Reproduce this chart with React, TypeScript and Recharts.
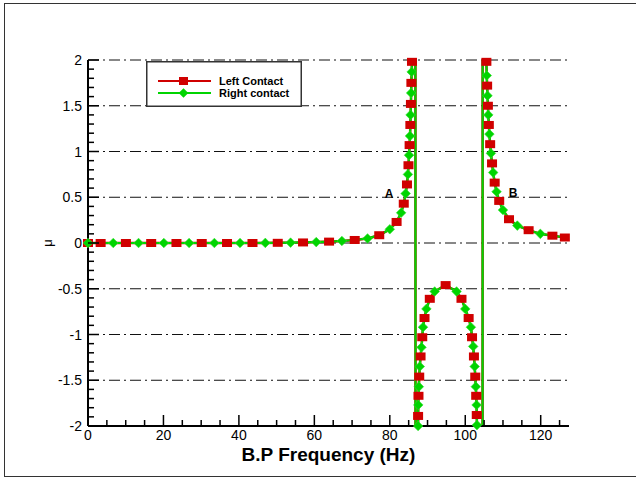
import React from 'react';
import { LineChart, Line, XAxis, YAxis, CartesianGrid, ReferenceDot, Legend } from 'recharts';

// B.P frequency (Hz) of the sampled points along both curves
const freq = [
  0, 3.35, 6.7, 10.05, 13.4, 16.75, 20.1, 23.45, 26.8, 30.15, 33.5, 36.85, 40.3, 43.6, 47.0, 50.3,
  53.7, 57.0, 60.5, 63.9, 67.3, 70.7, 74.1, 77.2, 80.0, 81.8, 83.0, 83.7, 84.2, 84.55, 84.8, 84.95,
  85.1, 85.25, 85.35, 85.45, 85.5, 85.6, 85.65, 85.72, 85.8, 85.88, 86.6, 87.0, 87.5, 87.5, 87.55,
  87.6, 87.7, 87.8, 87.95, 88.15, 88.4, 88.6, 88.8, 89.2, 89.7, 90.6, 91.9, 94.8, 97.7, 99.0, 100.0,
  100.9, 101.5, 101.8, 102.1, 102.3, 102.5, 102.65, 102.8, 102.9, 103.0, 103.05, 103.1, 104.4, 104.8,
  105.6, 105.7, 105.8, 105.9, 106.0, 106.1, 106.25, 106.4, 106.6, 106.8, 107.1, 107.4, 107.8, 108.3,
  109.0, 110.0, 111.6, 113.8, 116.8, 119.9, 123.1, 126.4,
];

// mu, left contact (values of +/-40 stand for the branches running off the chart)
const leftContact = [
  0, 0, 0, 0, 0, 0, 0, 0, 0, 0, 0, 0, 0, 0, 0.001, 0.002,
  0.004, 0.006, 0.01, 0.015, 0.022, 0.033, 0.05, 0.085, 0.15, 0.23, 0.33, 0.43, 0.54, 0.64, 0.75, 0.85,
  0.96, 1.07, 1.17, 1.29, 1.4, 1.52, 1.64, 1.75, 1.87, 1.98, 40, -40, -2.0, -1.89, -1.77,
  -1.67, -1.57, -1.46, -1.35, -1.24, -1.14, -1.03, -0.92, -0.82, -0.72, -0.61, -0.53, -0.46, -0.53, -0.61, -0.72,
  -0.82, -0.92, -1.03, -1.13, -1.24, -1.35, -1.46, -1.57, -1.67, -1.77, -1.88, -1.99, -40, 40,
  1.98, 1.83, 1.72, 1.61, 1.5, 1.4, 1.29, 1.19, 1.08, 0.98, 0.87, 0.77, 0.66, 0.56,
  0.46, 0.36, 0.26, 0.19, 0.14, 0.1, 0.08, 0.06,
];

// mu, right contact (lies on top of the left contact curve)
const rightContact = [
  0, 0, 0, 0, 0, 0, 0, 0, 0, 0, 0, 0, 0, 0, 0.001, 0.002,
  0.004, 0.006, 0.01, 0.015, 0.022, 0.033, 0.05, 0.085, 0.15, 0.23, 0.33, 0.43, 0.54, 0.64, 0.75, 0.85,
  0.96, 1.07, 1.17, 1.29, 1.4, 1.52, 1.64, 1.75, 1.87, 1.98, 40, -40, -2.0, -1.89, -1.77,
  -1.67, -1.57, -1.46, -1.35, -1.24, -1.14, -1.03, -0.92, -0.82, -0.72, -0.61, -0.53, -0.46, -0.53, -0.61, -0.72,
  -0.82, -0.92, -1.03, -1.13, -1.24, -1.35, -1.46, -1.57, -1.67, -1.77, -1.88, -1.99, -40, 40,
  1.98, 1.83, 1.72, 1.61, 1.5, 1.4, 1.29, 1.19, 1.08, 0.98, 0.87, 0.77, 0.66, 0.56,
  0.46, 0.36, 0.26, 0.19, 0.14, 0.1, 0.08, 0.06,
];

const xMajorTicks = [0, 20, 40, 60, 80, 100, 120];
const yMajorTicks = [-2, -1.5, -1, -0.5, 0, 0.5, 1, 1.5, 2];

const xTicks: number[] = [];
for (let v = 0; v <= 125; v += 5) xTicks.push(v);
const yTicks: number[] = [];
for (let i = -20; i <= 20; i++) yTicks.push(i / 10);

const annotations = [
  { text: 'A', freq: 79.8, mu: 0.54 },
  { text: 'B', freq: 112.7, mu: 0.55 },
];

const data = freq.map((f, i) => ({ freq: f, left: leftContact[i], right: rightContact[i] }));

const RED = '#d00000';
const GREEN = '#00d400';
const FONT = '"Liberation Sans", Arial, Helvetica, sans-serif';

const inPlot = (v: any) => typeof v === 'number' && v >= -2.05 && v <= 2.05;
const last = freq.length - 1;

function RedSquare(p: any) {
  const { cx, cy, index, value, key } = p;
  const show = index % 2 === 1 || index === 0 || index === last;
  if (cx == null || cy == null || !inPlot(value) || !show) return <g key={key} />;
  return <rect key={key} x={cx - 5} y={cy - 4} width={10} height={8} fill={RED} />;
}

function GreenDiamond(p: any) {
  const { cx, cy, index, value, key } = p;
  if (cx == null || cy == null || !inPlot(value) || index % 2 === 1 || index === last) return <g key={key} />;
  const r = 4.8;
  return (
    <polygon
      key={key}
      points={`${cx},${cy - r} ${cx + r},${cy} ${cx},${cy + r} ${cx - r},${cy}`}
      fill={GREEN}
      stroke="#30e030"
      strokeWidth={0.6}
    />
  );
}

function XTick(p: any) {
  const { x, y, payload } = p;
  const v = payload.value;
  const major = xMajorTicks.includes(v);
  return (
    <g>
      <line x1={x} x2={x} y1={y} y2={y - (major ? 11 : 6)} stroke="#000" strokeWidth={1.5} />
      {major && (
        <text x={x} y={y + 14} textAnchor="middle" fontSize={14} fontFamily={FONT} fill="#000">
          {v}
        </text>
      )}
    </g>
  );
}

function YTick(p: any) {
  const { x, y, payload } = p;
  const v = payload.value;
  const major = yMajorTicks.some((m) => Math.abs(m - v) < 1e-6);
  return (
    <g>
      <line x1={x} x2={x + (major ? 11 : 6)} y1={y} y2={y} stroke="#000" strokeWidth={1.5} />
      {major && (
        <text x={x - 6} y={y + 5} textAnchor="end" fontSize={14} fontFamily={FONT} fill="#000">
          {v}
        </text>
      )}
    </g>
  );
}

function LegendBox() {
  return (
    <svg width={156} height={46} style={{ display: 'block' }}>
      <rect x={0.75} y={0.75} width={154.5} height={44.5} fill="#fff" stroke="#333" strokeWidth={1.5} />
      <line x1={12} x2={65} y1={20} y2={20} stroke={RED} strokeWidth={2} />
      <rect x={33} y={16} width={9} height={8} fill={RED} />
      <text x={73} y={24} fontSize={11} fontWeight="bold" fontFamily={FONT} fill="#000">Left Contact</text>
      <line x1={12} x2={65} y1={32} y2={32} stroke={GREEN} strokeWidth={2} />
      <polygon points="37.5,27.2 42.3,32 37.5,36.8 32.7,32" fill={GREEN} />
      <text x={73} y={36} fontSize={11} fontWeight="bold" fontFamily={FONT} fill="#000">Right contact</text>
    </svg>
  );
}

export default function App() {
  return (
    <div style={{ position: 'absolute', left: 0, top: 0, width: 636, height: 478, background: '#fff', fontFamily: FONT }}>
      <div
        style={{
          position: 'absolute', left: 4, top: 3, width: 640, height: 474,
          border: '1.5px solid #333', boxSizing: 'border-box',
        }}
      />
      <div style={{ position: 'absolute', left: 0, top: 0 }}>
        <LineChart width={636} height={478} data={data} margin={{ top: 60, right: 67, bottom: 16, left: 28 }}>
          <CartesianGrid
            yAxisId="mu"
            vertical={false}
            horizontalValues={yMajorTicks}
            stroke="#111"
            strokeDasharray="11 4 2 4"
          />
          <XAxis
            dataKey="freq"
            type="number"
            domain={[0, 127.5]}
            ticks={xTicks}
            interval={0}
            tickSize={0}
            tickMargin={0}
            tickLine={false}
            tick={<XTick />}
            height={36}
            axisLine={{ stroke: '#000', strokeWidth: 2 }}
            label={{
              value: 'B.P Frequency (Hz)',
              content: (lp: any) => {
                const vb = lp.viewBox;
                return (
                  <text x={vb.x + vb.width / 2} y={vb.y + 35} textAnchor="middle" fontSize={19}
                    fontWeight="bold" fontFamily={FONT} fill="#000">
                    B.P Frequency (Hz)
                  </text>
                );
              },
            }}
          />
          <YAxis
            yAxisId="mu"
            type="number"
            domain={[-2, 2]}
            allowDataOverflow
            ticks={yTicks}
            interval={0}
            tickSize={0}
            tickMargin={0}
            tickLine={false}
            tick={<YTick />}
            width={60}
            axisLine={{ stroke: '#000', strokeWidth: 2 }}
            label={{
              value: 'μ',
              content: (lp: any) => {
                const vb = lp.viewBox;
                const cx = vb.x + 19;
                const cy = vb.y + vb.height / 2;
                return (
                  <text x={cx} y={cy} transform={`rotate(-90, ${cx}, ${cy})`} textAnchor="middle"
                    dy="0.35em" fontSize={13} fontFamily={FONT} fill="#000">
                    μ
                  </text>
                );
              },
            }}
          />
          <YAxis yAxisId="marks" hide orientation="right" width={0} type="number" domain={[-2, 2]} />
          <Line yAxisId="mu" dataKey="left" stroke={RED} strokeWidth={2.5} dot={false} activeDot={false} isAnimationActive={false} />
          <Line
            yAxisId="marks"
            dataKey={(d: any) => (inPlot(d.left) ? d.left : null)}
            stroke="none"
            dot={RedSquare}
            activeDot={false}
            isAnimationActive={false}
          />
          <Line yAxisId="mu" dataKey="right" stroke={GREEN} strokeWidth={2.2} dot={false} activeDot={false} isAnimationActive={false} />
          <Line
            yAxisId="marks"
            dataKey={(d: any) => (inPlot(d.right) ? d.right : null)}
            stroke="none"
            dot={GreenDiamond}
            activeDot={false}
            isAnimationActive={false}
          />
          {annotations.map((a) => (
            <ReferenceDot
              key={a.text}
              yAxisId="mu"
              x={a.freq}
              y={a.mu}
              r={1}
              fill="none"
              stroke="none"
              label={{ value: a.text, position: 'center', fontSize: 12, fontWeight: 'bold', fill: '#000', fontFamily: FONT }}
            />
          ))}
          <Legend
            layout="horizontal"
            verticalAlign="middle"
            content={() => <LegendBox />}
            wrapperStyle={{ position: 'absolute', left: 146, top: 61, width: 156, height: 46 }}
          />
        </LineChart>
      </div>
    </div>
  );
}
